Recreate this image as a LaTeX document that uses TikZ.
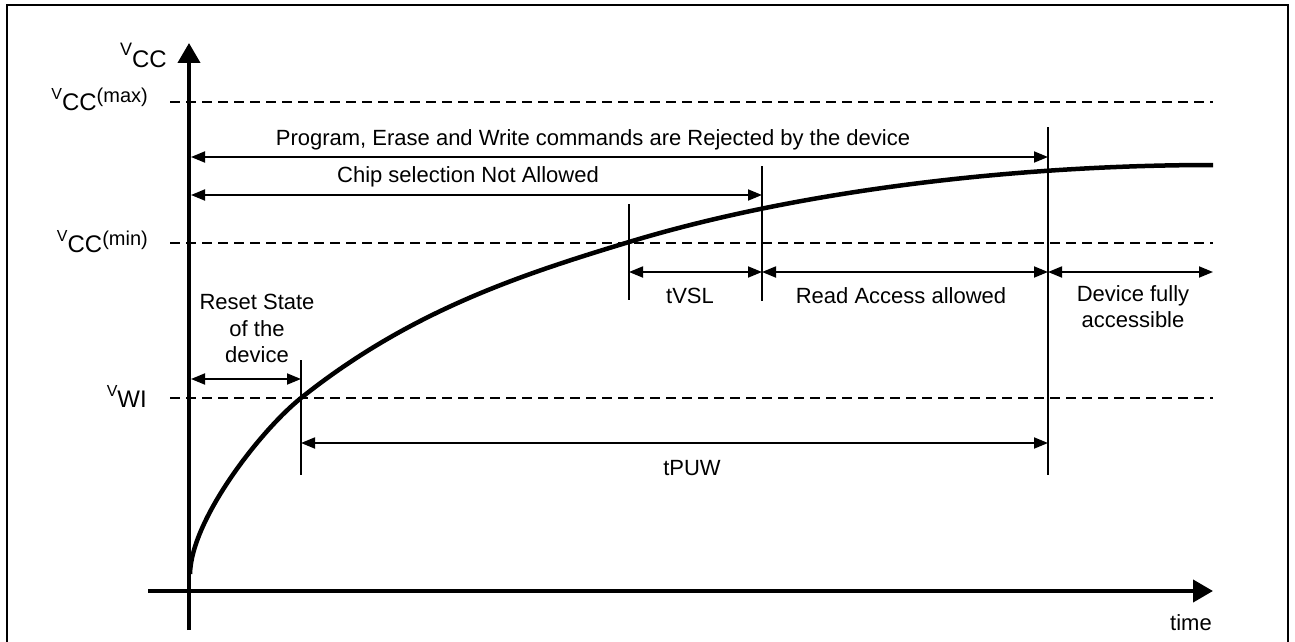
\documentclass[tikz,border=0pt]{standalone}
\usepackage{fontspec}
\setmainfont{Liberation Sans}
\usetikzlibrary{arrows.meta}
\newcommand{\Vlab}[2]{\raisebox{10.5pt}{\fontsize{16}{16}\selectfont V}{\fontsize{24}{24}\selectfont #1}\raisebox{7pt}{\fontsize{20}{20}\selectfont #2}}
\begin{document}
\begin{tikzpicture}[x=1pt,y=-1pt,
  lbl/.style={font=\fontsize{22}{27}\selectfont, inner sep=0pt, align=center},
  axisline/.style={line width=4pt},
  axistip/.style={-{Triangle[length=20pt,width=22pt]}},
  dashline/.style={line width=2.5pt, dash pattern=on 10pt off 6pt},
  dimline/.style={line width=1.8pt},
  dimtip/.style={{Triangle[length=14pt,width=11pt]}-{Triangle[length=14pt,width=11pt]}},
  marker/.style={line width=1.5pt},
  curve/.style={line width=4.5pt, line join=round}]
\useasboundingbox (0,0) rectangle (1295,642);
% frame
\draw[line width=2pt] (7,650) -- (7,5) -- (1288,5) -- (1288,650);
% coordinates
\coordinate (axisTop) at (189,43);
\coordinate (axisBot) at (189,630);
\coordinate (xL) at (148,591);
\coordinate (xR) at (1213,591);
\coordinate (dmaxL) at (170,102); \coordinate (dmaxR) at (1213,102);
\coordinate (dminL) at (170,243); \coordinate (dminR) at (1213,243);
\coordinate (dwiL) at (170,398);  \coordinate (dwiR) at (1213,398);
\coordinate (m1a) at (301,360);  \coordinate (m1b) at (301,475);
\coordinate (m2a) at (629,204);  \coordinate (m2b) at (629,300);
\coordinate (m3a) at (762,166);  \coordinate (m3b) at (762,301);
\coordinate (m4a) at (1048,127); \coordinate (m4b) at (1048,475);
\coordinate (P1) at (191,157); \coordinate (P2) at (1048,157);
\coordinate (C1) at (191,195); \coordinate (C2) at (762,195);
\coordinate (T1) at (629,272); \coordinate (T2) at (762,272);
\coordinate (R2) at (1048,272); \coordinate (D2) at (1213,272);
\coordinate (S1) at (191,379); \coordinate (S2) at (301,379);
\coordinate (U1) at (301,443); \coordinate (U2) at (1048,443);
\coordinate (cv0) at (190,574);
\coordinate (cv1) at (301,398);
\coordinate (cv2) at (629,242);
\coordinate (cv3) at (1213,165);
% dashed levels
\draw[dashline] (dmaxL) -- (dmaxR);
\draw[dashline] (dminL) -- (dminR);
\draw[dashline] (dwiL) -- (dwiR);
% axes
\draw[axisline, axistip] (axisBot) -- (axisTop);
\draw[axisline, axistip] (xL) -- (xR);
% curve
\draw[curve] (cv0) .. controls (191,520) and (260,431) .. (cv1)
  .. controls (410,311) and (520,275) .. (cv2)
  .. controls (800,190) and (1018,165) .. (cv3);
% markers
\draw[marker] (m1a) -- (m1b);
\draw[marker] (m2a) -- (m2b);
\draw[marker, line width=2.5pt] (m3a) -- (m3b);
\draw[marker] (m4a) -- (m4b);
% dimension arrows
\draw[dimline, dimtip] (P1) -- (P2);
\draw[dimline, dimtip] (C1) -- (C2);
\draw[dimline, dimtip] (T1) -- (T2);
\draw[dimline, dimtip] (T2) -- (R2);
\draw[dimline, dimtip] (R2) -- (D2);
\draw[dimline, dimtip] (S1) -- (S2);
\draw[dimline, dimtip] (U1) -- (U2);
% labels
\node[lbl] (lprog) at (593,140) {Program, Erase and Write commands are Rejected by the device};
\node[lbl] (lchip) at (468,177) {Chip selection Not Allowed};
\node[lbl] (ltvsl) at (690,296) {tVSL};
\node[lbl] (lread) at (901,296) {Read Access allowed};
\node[lbl, font=\fontsize{22}{26}\selectfont, anchor=north] (ldev) at (1133,285) {Device fully\\accessible};
\node[lbl, font=\fontsize{22}{26.5}\selectfont, anchor=north] (lreset) at (257,294) {Reset State\\of the\\device};
\node[lbl] (ltpuw) at (692,468) {tPUW};
\node[lbl] (ltime) at (1191,623) {time};
\node[inner sep=0pt, anchor=base east] (lvcc) at (167,67) {\raisebox{12pt}{\fontsize{18}{18}\selectfont V}{\fontsize{24}{24}\selectfont CC}};
\node[inner sep=0pt, anchor=base east] (lmax) at (148,110) {\Vlab{CC}{(max)}};
\node[inner sep=0pt, anchor=base east] (lmin) at (148,252) {\Vlab{CC}{(min)}};
\node[inner sep=0pt, anchor=base east] (lwi) at (147,407) {\Vlab{WI}{}};
\end{tikzpicture}
\end{document}
